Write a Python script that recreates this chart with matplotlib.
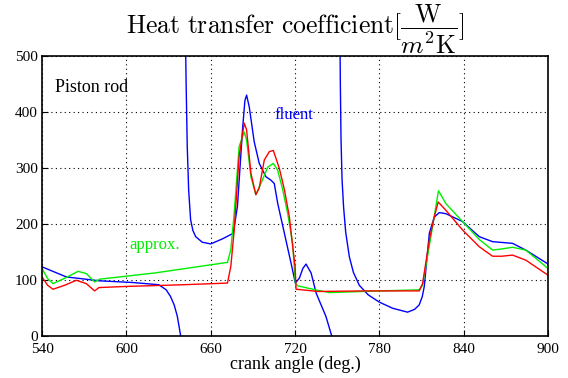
import numpy as np
import matplotlib.pyplot as plt

plt.rcParams['font.family'] = ['Liberation Serif', 'DejaVu Serif']
plt.rcParams['mathtext.fontset'] = 'cm'

# Red curve
red_deg = [540, 544, 547.8, 556, 564.4, 571.5, 577.4, 580.5, 600, 640, 671.9, 674.3, 676.7,
           680.2, 683.8, 685.5, 688.6, 692.1, 694.5, 698.1, 701.7, 704.5, 706.4, 708.8,
           712.4, 715.9, 718.3, 720, 720.7, 736.2, 770, 808.3, 810.7,
           815.5, 819, 821.8, 827.3, 839.1, 851, 860.5, 867, 874.7, 884.1, 900]
red_val = [105, 90, 83, 90, 99, 93, 80, 86, 88, 91, 94, 124, 189,
           320, 380, 368, 290, 252, 264, 314, 329, 331, 317, 299,
           261, 213, 159, 124, 83, 79, 80, 80, 93,
           171, 212, 239, 224, 189, 159, 142, 142, 144, 135, 108]

# Green curve (approx.)
green_deg = [540, 544, 547.8, 557.3, 565.6, 571.5, 577.4, 581, 620, 671.9, 674.3, 676.7,
             680.2, 683.8, 685.5, 688.6, 692.1, 695.7, 700.5, 704.5, 707.6, 711.2, 714.7,
             718.3, 720.2, 721.9, 736.2, 744.4, 768, 808.3, 810.7,
             816.6, 822, 827.3, 839.1, 851, 860.5, 867, 874.7, 884.1, 900]
green_val = [120, 102, 93, 104, 115, 111, 96, 101, 112, 131, 154, 219,
             338, 364, 350, 284, 252, 272, 301, 308, 296, 261, 219,
             165, 94, 89, 81, 77, 79, 82, 90,
             177, 259, 236, 204, 172, 153, 155, 158, 153, 120]

# Blue curve (fluent), NaN splits the branches around the singularities
blue_deg = [540, 557.3, 581, 604.6, 623.1, 628.3, 631.4, 634, 636.2, 638.6, 639.5, np.nan,
            642.0, 642.5, 643.3, 644.3, 645.7, 647.3, 649.3, 654, 660, 668.3, 676, 679,
            682.6, 684.3, 685.5, 687.4, 690.9, 694.5, 699.3, 702.8, 705.2, 707.6, 712.4,
            717.1, 720.2, 723.1, 725.5, 727.8, 731.4, 735, 738.5, 742, 746, 747, np.nan,
            751.9, 752.2, 752.7, 753.4, 754.5, 756, 758.6, 761.5, 765.7, 772, 779.9, 789.4,
            800, 805, 808.3, 810.5, 811.9, 815.5, 819, 822.6, 827.3, 839.1, 851, 860.5,
            874.7, 884.1, 900]
blue_val = [123, 105, 98, 95, 91, 82, 70, 55, 35, 0, -30, np.nan,
            540, 450, 338, 260, 207, 188, 177, 167, 164, 173, 183, 231,
            368, 420, 430, 409, 347, 308, 284, 278, 272, 237, 183,
            130, 94, 103, 120, 128, 112, 76, 55, 34, 0, -20, np.nan,
            540, 450, 349, 280, 230, 185, 141, 113, 90, 73, 60, 49,
            42, 47, 55, 70, 88, 183, 212, 220, 218, 204, 177, 168,
            165, 153, 128]

fig = plt.figure(figsize=(5.68, 3.78), dpi=100)
ax = fig.add_axes([0.074, 0.112, 0.891, 0.740])

ax.plot(blue_deg, blue_val, color='#0000ff', lw=1.0)
ax.plot(green_deg, green_val, color='#00ee00', lw=1.0)
ax.plot(red_deg, red_val, color='#ff0000', lw=1.0)

ax.set_xlim(540, 900)
ax.set_ylim(0, 500)
ax.set_xticks(np.arange(540, 901, 60))
ax.set_yticks(np.arange(0, 501, 100))
ax.grid(True, color='black', linestyle=(0, (1, 3)), linewidth=0.8)
ax.tick_params(direction='in', length=4, labelsize=11, colors='black')
ax.tick_params(axis='x', pad=5)
ax.tick_params(axis='y', pad=3)
for s in ax.spines.values():
    s.set_linewidth(1.2)

ax.text(549, 444, 'Piston rod', fontsize=13, va='center')
ax.text(705, 394, 'fluent', fontsize=12, color='#0000ff', va='center')
ax.text(602, 162, 'approx.', fontsize=12, color='#00ee00', va='center')

ax.set_xlabel('crank angle (deg.)', fontsize=13, labelpad=0)
ax.set_title(r'$\mathrm{Heat\ transfer\ coefficient}[\dfrac{\mathrm{W}}{m^2\mathrm{K}}]$',
             fontsize=18.5, pad=3)

fig.savefig('out.png', dpi=100)
